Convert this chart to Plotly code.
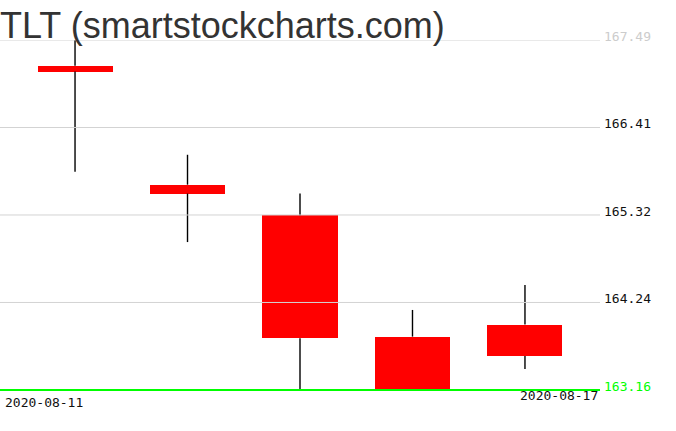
import plotly.graph_objects as go

# ---- data ----
dates = ["2020-08-11", "2020-08-12", "2020-08-13", "2020-08-14", "2020-08-17"]
opens = [167.17, 165.70, 165.32, 163.82, 163.97]
closes = [167.10, 165.59, 163.80, 163.17, 163.58]
highs = [167.49, 166.07, 165.59, 164.15, 164.46]
lows = [165.86, 164.99, 163.16, 163.16, 163.42]
y_ticks = [163.16, 164.2425, 165.325, 166.4075, 167.49]
tick_labels = ["163.16", "164.24", "165.32", "166.41", "167.49"]
title_text = "TLT (smartstockcharts.com)"

xs = list(range(len(dates)))
body_lo = [min(o, c) for o, c in zip(opens, closes)]
body_hi = [max(o, c) for o, c in zip(opens, closes)]
body_h = [h - l for h, l in zip(body_hi, body_lo)]

fig = go.Figure()
fig.add_trace(go.Bar(
    x=xs, y=body_h, base=body_lo, width=0.667,
    marker=dict(color="#ff0000", line=dict(width=0)),
    hoverinfo="skip", showlegend=False,
))

# wick segments (outside the body)
wx, wy = [], []
for x, h, l, bh, bl in zip(xs, highs, lows, body_hi, body_lo):
    wx += [x, x, None, x, x, None]
    wy += [h, bh, None, bl, l, None]
fig.add_trace(go.Scatter(
    x=wx, y=wy, mode="lines", line=dict(color="black", width=1.4),
    hoverinfo="skip", showlegend=False,
))

# gridlines drawn above bodies
for i, v in enumerate(y_ticks):
    if i == 0:
        continue
    fig.add_shape(type="line", xref="paper", x0=0, x1=1, yref="y", y0=v, y1=v,
                  line=dict(color="#d3d3d3", width=1), layer="above")
# green line at lowest low
fig.add_shape(type="line", xref="paper", x0=0, x1=1, yref="y", y0=min(lows), y1=min(lows),
              line=dict(color="#00ff00", width=2), layer="above")

colored = []
for i, t in enumerate(tick_labels):
    if i == 0:
        colored.append(f"<span style='color:#00ff00'>{t}</span>")
    elif i == len(tick_labels) - 1:
        colored.append(f"<span style='color:#cccccc'>{t}</span>")
    else:
        colored.append(t)

fig.update_layout(
    width=676, height=431,
    margin=dict(l=0, r=76, t=40, b=39),
    paper_bgcolor="white", plot_bgcolor="white",
    bargap=0,
    xaxis=dict(range=[-0.667, len(dates) - 1 + 0.667], showgrid=False, zeroline=False,
               showticklabels=False, showline=False, fixedrange=True),
    yaxis=dict(range=[min(lows) - 0.025, max(highs)], side="right", showgrid=False, zeroline=False,
               tickvals=y_ticks, ticktext=colored, ticks="", ticklabelstandoff=3,
               ticklabelshift=-4,
               tickfont=dict(family="DejaVu Sans Mono", size=13, color="#111111"),
               showline=False, fixedrange=True),
    annotations=[
        dict(text=title_text, xref="paper", yref="paper", x=0, y=1, xanchor="left",
             yanchor="bottom", yshift=-8, xshift=-2, showarrow=False,
             font=dict(family="Liberation Sans", size=36, color="#333333")),
        dict(text=dates[0], xref="paper", yref="paper", x=0, y=0, xanchor="left",
             yanchor="top", xshift=3, yshift=-1, showarrow=False,
             font=dict(family="DejaVu Sans Mono", size=13, color="#111111")),
        dict(text=dates[-1], xref="paper", yref="paper", x=1, y=0, xanchor="right",
             yanchor="top", xshift=0, yshift=6, showarrow=False,
             font=dict(family="DejaVu Sans Mono", size=13, color="#111111")),
    ],
)

fig.write_html("out.html", config={"displayModeBar": False},
               post_script="document.body.style.margin='0';")
